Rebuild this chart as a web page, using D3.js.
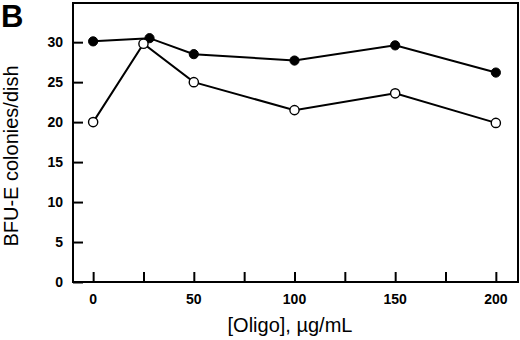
<!DOCTYPE html>
<html>
<head>
<meta charset="utf-8">
<script src="https://cdn.jsdelivr.net/npm/d3@7"></script>
<style>
  body { margin: 0; background: #fff; }
  text { font-family: "Liberation Sans", Arial, sans-serif; fill: #000; }
</style>
</head>
<body>
<script>
// data
var xTicks = [0, 25, 50, 75, 100, 125, 150, 175, 200];
var xLabels = [0, 50, 100, 150, 200];
var yTicks = [0, 5, 10, 15, 20, 25, 30];

var filledX = [0, 28, 50, 100, 150, 200];
var filledY = [30.1, 30.5, 28.5, 27.7, 29.6, 26.2];

var openX = [0, 25, 50, 100, 150, 200];
var openY = [20.0, 29.8, 25.0, 21.5, 23.6, 19.9];

var width = 520, height = 340;
var margin = {top: 3, right: 2, bottom: 58, left: 73};

var svg = d3.select("body")
            .append("svg")
            .attr("width", width)
            .attr("height", height);

var x = d3.scaleLinear()
          .domain([-10, 211])
          .range([margin.left, width - margin.right]);

var y = d3.scaleLinear()
          .domain([0, 34.9])
          .range([height - margin.bottom, margin.top]);

// frame
svg.append("rect")
   .attr("x", margin.left)
   .attr("y", margin.top)
   .attr("width", width - margin.right - margin.left)
   .attr("height", height - margin.bottom - margin.top)
   .style("fill", "none")
   .style("stroke", "#000")
   .style("stroke-width", 2);

// x axis, ticks pointing inward
var xAxis = svg.append("g")
   .attr("transform", "translate(0," + (height - margin.bottom) + ")")
   .call(d3.axisTop(x).tickValues(xTicks).tickSize(10).tickFormat(""));
xAxis.select(".domain").remove();
xAxis.selectAll("line").style("stroke-width", 2);

svg.append("g")
   .selectAll("text")
   .data(xLabels)
   .enter().append("text")
   .attr("x", function(d) { return x(d); })
   .attr("y", height - margin.bottom + 22)
   .style("text-anchor", "middle")
   .style("font-size", "14px")
   .style("font-weight", "bold")
   .text(function(d) { return d; });

// y axis
var yAxis = svg.append("g")
   .attr("transform", "translate(" + margin.left + ",0)")
   .call(d3.axisRight(y).tickValues(yTicks).tickSize(10).tickFormat(""));
yAxis.select(".domain").remove();
yAxis.selectAll("line").style("stroke-width", 2);

svg.append("g")
   .selectAll("text")
   .data(yTicks)
   .enter().append("text")
   .attr("x", margin.left - 10)
   .attr("y", function(d) { return y(d); })
   .attr("dy", "0.36em")
   .style("text-anchor", "end")
   .style("font-size", "14px")
   .style("font-weight", "bold")
   .text(function(d) { return d; });

// axis titles
svg.append("text")
   .attr("transform", "translate(18," + 156 + ")rotate(-90)")
   .style("text-anchor", "middle")
   .style("font-size", "20px")
   .text("BFU-E colonies/dish");

svg.append("text")
   .attr("x", 290)
   .attr("y", 332)
   .style("text-anchor", "middle")
   .style("font-size", "20px")
   .text("[Oligo], \u00b5g/mL");

// panel letter
svg.append("text")
   .attr("x", 1)
   .attr("y", 27)
   .style("font-size", "31px")
   .style("font-weight", "bold")
   .text("B");

var line = d3.line()
             .x(function(d) { return x(d[0]); })
             .y(function(d) { return y(d[1]); });

function drawSeries(xs, ys, filled) {
  var pts = d3.zip(xs, ys);
  svg.append("path")
     .datum(pts)
     .attr("d", line)
     .style("fill", "none")
     .style("stroke", "#000")
     .style("stroke-width", 2);
  svg.append("g")
     .selectAll("circle")
     .data(pts)
     .enter().append("circle")
     .attr("cx", function(d) { return x(d[0]); })
     .attr("cy", function(d) { return y(d[1]); })
     .attr("r", 4.6)
     .style("fill", filled ? "#000" : "#fff")
     .style("stroke", "#000")
     .style("stroke-width", filled ? 1 : 1.4);
}

drawSeries(filledX, filledY, true);
drawSeries(openX, openY, false);
</script>
</body>
</html>
